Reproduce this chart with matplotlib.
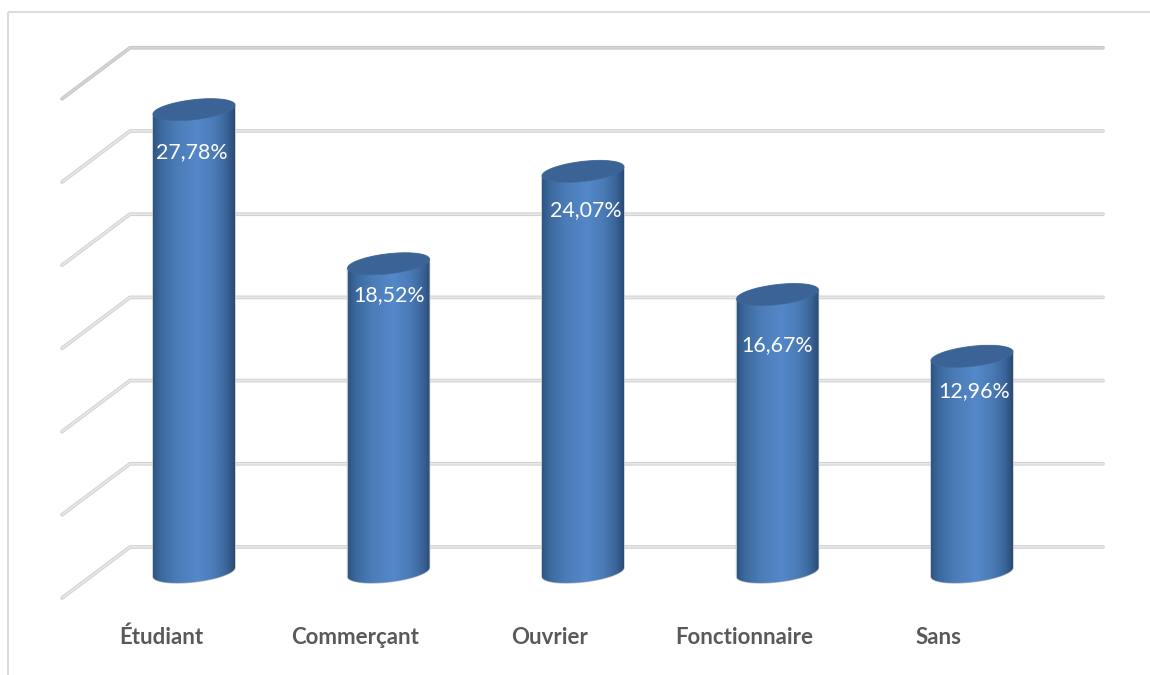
import numpy as np
import matplotlib
matplotlib.use("Agg")
import matplotlib.pyplot as plt
from matplotlib.colors import LinearSegmentedColormap
from matplotlib.patches import PathPatch, Polygon
from matplotlib.path import Path

# ---- data ----
categories = ["Étudiant", "Commerçant", "Ouvrier", "Fonctionnaire", "Sans"]
values = [27.78, 18.52, 24.07, 16.67, 12.96]
value_labels = ["27,78%", "18,52%", "24,07%", "16,67%", "12,96%"]
grid_values = [0, 5, 10, 15, 20, 25, 30]

# ---- layout (pixels) ----
W, H = 1150, 675
X0_PX, STEP_PX = 194.0, 194.5      # centre of first bar, spacing
Y0_PX, UNIT_PX = 572.0, 16.64      # baseline row, pixels per percent
A, B, SHEAR = 41.0, 10.0, 4.5      # ellipse half-width, half-height, tilt
BACK_DY, FRONT_DY = 25.0, 26.0     # floor depth behind/in front of the bar plane
GRID_LEFT, GRID_BEND, GRID_RIGHT = 62, 130, 1103
LABEL_SHIFT = [(-2.5, 42), (0.5, 31), (3, 39), (-0.5, 50), (2.5, 35)]  # value label offsets
CAT_SHIFT_PX, CAT_ROW_PX = -33, 637

fig = plt.figure(figsize=(W / 100, H / 100), dpi=100, facecolor="white")
ax = fig.add_axes([0, 0, 1, 1])
ax.set_xlim(-X0_PX / STEP_PX, (W - X0_PX) / STEP_PX)
ax.set_ylim((Y0_PX - H) / UNIT_PX, Y0_PX / UNIT_PX)
ax.axis("off")

dx = 1 / STEP_PX
dy = 1 / UNIT_PX
def xpx(p):
    return (p - X0_PX) * dx

# outer frame (top and left only)
ax.plot([8 / W, 1], [1 - 12 / H] * 2, transform=ax.transAxes, color="#dcdcdc", lw=1.5, zorder=1, solid_capstyle="butt")
ax.plot([8 / W, 8 / W], [1 - 12 / H, 0], transform=ax.transAxes, color="#dcdcdc", lw=1.5, zorder=1, solid_capstyle="butt")

# gridlines with floor/wall bend
for v in grid_values:
    xs = [xpx(GRID_LEFT), xpx(GRID_BEND), xpx(GRID_RIGHT)]
    ys = [v - FRONT_DY * dy, v + BACK_DY * dy, v + BACK_DY * dy]
    edge, core = ("#c8c8c8", "#d4d4d4") if v == 30 else ("#d2d2d2", "#e8e8e8")
    ax.plot(xs, ys, color=edge, lw=2.7, zorder=2, solid_joinstyle="miter", solid_capstyle="round")
    ax.plot(xs, ys, color=core, lw=1.2, zorder=2.1, solid_joinstyle="miter", solid_capstyle="round")

cmap = LinearSegmentedColormap.from_list("cyl", [
    (0.00, "#2e5582"), (0.10, "#3c6a9f"), (0.30, "#4c7db8"),
    (0.55, "#5488c9"), (0.75, "#4a7bb6"), (0.90, "#3b659a"), (1.00, "#2a4a72")])
grad = np.linspace(0, 1, 256).reshape(1, -1)
t = np.linspace(0, 2 * np.pi, 121)

def ellipse(cx, cy):
    return (cx + A * dx * np.cos(t), cy + (B * np.sin(t) + SHEAR * np.cos(t)) * dy)

for i, (v, lab) in enumerate(zip(values, value_labels)):
    ex0, ey0 = ellipse(i, 0)
    ex1, ey1 = ellipse(i, v)
    # body silhouette: top half of top ellipse (t 0..pi) + bottom half of base ellipse (t pi..2pi)
    top_x, top_y = ex1[:61], ey1[:61]
    bot_x, bot_y = ex0[60:], ey0[60:]
    body = np.column_stack([np.r_[top_x, bot_x], np.r_[top_y, bot_y]])
    outline = Polygon(body, closed=True, facecolor="none", edgecolor="#b9c0c8", lw=1.0, zorder=3)
    ax.add_patch(outline)
    im = ax.imshow(grad, cmap=cmap, aspect="auto", zorder=3.1, interpolation="bilinear",
                   extent=[i - A * dx, i + A * dx, -20 * dy - 0.5, v + 15 * dy])
    clip = PathPatch(Path(body, closed=False), transform=ax.transData, facecolor="none", edgecolor="none")
    ax.add_patch(clip)
    im.set_clip_path(clip)
    ax.add_patch(Polygon(np.column_stack([ex1, ey1]), closed=True, facecolor="#3b6395",
                         edgecolor="#3f6a9e", lw=0.5, zorder=3.3))
    sx, sy = LABEL_SHIFT[i]
    ax.text(i + sx * dx, v - sy * dy, lab, color="white", fontsize=15.4, family="Lato",
            ha="center", va="center", zorder=5)
    ax.text(i + CAT_SHIFT_PX * dx, (Y0_PX - CAT_ROW_PX) * dy, categories[i], color="#595959",
            fontsize=16, family="Lato", fontweight="bold", ha="center", va="center", zorder=5)

ax.set_xlim(-X0_PX / STEP_PX, (W - X0_PX) / STEP_PX)
ax.set_ylim((Y0_PX - H) / UNIT_PX, Y0_PX / UNIT_PX)
fig.savefig("out.png", dpi=100, facecolor="white")
